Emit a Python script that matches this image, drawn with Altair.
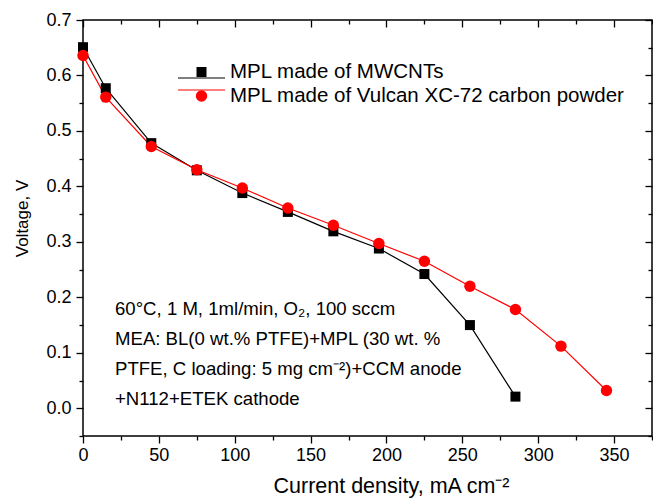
import altair as alt
import pandas as pd

# ---- data ----
mw_x = [0, 15, 45, 75, 105, 135, 165, 195, 225, 255, 285]
mw_y = [0.651, 0.577, 0.478, 0.429, 0.388, 0.354, 0.319, 0.288, 0.242, 0.150, 0.021]
vx_x = [0, 15, 45, 75, 105, 135, 165, 195, 225, 255, 285, 315, 345]
vx_y = [0.636, 0.561, 0.472, 0.430, 0.397, 0.361, 0.330, 0.297, 0.265, 0.220, 0.178, 0.112, 0.032]
series_names = ["MPL made of MWCNTs", "MPL made of Vulcan XC-72 carbon powder"]
series_colors = ["#000000", "#ff0000"]
x_ticks = list(range(0, 376, 25))
y_ticks = [round(-0.05 + 0.05 * i, 2) for i in range(16)]
note_lines = [
    "60°C, 1 M, 1ml/min, O₂, 100 sccm",
    "MEA: BL(0 wt.% PTFE)+MPL (30 wt. %",
    "PTFE, C loading: 5 mg cm⁻²)+CCM anode",
    "+N112+ETEK cathode",
]

rows = [{"x": a, "y": b, "s": series_names[0], "o": i} for i, (a, b) in enumerate(zip(mw_x, mw_y))]
rows += [{"x": a, "y": b, "s": series_names[1], "o": i} for i, (a, b) in enumerate(zip(vx_x, vx_y))]
df = pd.DataFrame(rows)
df_leg = pd.DataFrame({"s": series_names})

FONT = "Liberation Sans"
W, H = 569, 416

xs = alt.Scale(domain=[0, 375], nice=False, zero=False)
ys = alt.Scale(domain=[-0.05, 0.7], nice=False, zero=False)

x_major = "abs(datum.value % 50) < 0.001"
y_major = "abs(round(datum.value*10) - datum.value*10) < 0.001"


def xaxis(offset, labels):
    kw = dict(
        orient="bottom", values=x_ticks, grid=False, domain=False,
        tickColor="#000", tickWidth=1.3,
        tickSize={"condition": {"test": x_major, "value": 7}, "value": 4},
    )
    if labels:
        kw.update(labelExpr="datum.value % 50 == 0 ? datum.label : ''",
                  labelFont=FONT, labelFontSize=18, labelColor="#000", labelPadding=3,
                  title="Current density, mA cm⁻²", titleFont=FONT, titleFontSize=21.5,
                  titleFontWeight="normal", titleColor="#000", titleX=308, titleY=50,
                  titleAlign="center", titleBaseline="middle", labelFlush=False)
    else:
        kw.update(labels=False, title="", offset=offset)
    return alt.Axis(**kw)


def yaxis(offset, labels):
    kw = dict(
        orient="left", values=y_ticks, grid=False, domain=False,
        tickColor="#000", tickWidth=1.3,
        tickSize={"condition": {"test": y_major, "value": 7}, "value": 4},
    )
    if labels:
        kw.update(labelExpr=y_major + " ? format(datum.value, '.1f') : ''",
                  labelFont=FONT, labelFontSize=18, labelColor="#000", labelPadding=5,
                  title="Voltage, V", titleFont=FONT, titleFontSize=17, titleFontWeight="normal",
                  titleColor="#000", titleX=-61, titleY=198, titleAngle=-90,
                  titleAlign="center", titleBaseline="middle", labelFlush=False)
    else:
        kw.update(labels=False, title="", offset=offset)
    return alt.Axis(**kw)


cscale = alt.Scale(domain=series_names, range=series_colors)
color = alt.Color("s:N", scale=cscale, legend=None)

lines = alt.Chart(df).mark_line(strokeWidth=1.2).encode(
    x=alt.X("x:Q", scale=xs, axis=xaxis(0, True)),
    y=alt.Y("y:Q", scale=ys, axis=yaxis(0, True)),
    color=color,
    order="o:Q",
)

squares = alt.Chart(df).transform_filter(
    alt.datum.s == series_names[0]
).mark_square(size=100, opacity=1, color=series_colors[0]).encode(
    x=alt.X("x:Q", scale=xs, axis=xaxis(-H, False)),
    y=alt.Y("y:Q", scale=ys, axis=yaxis(-W, False)),
)

circles = alt.Chart(df).transform_filter(
    alt.datum.s == series_names[1]
).mark_circle(size=130, opacity=1, color=series_colors[1]).encode(
    x=alt.X("x:Q", scale=xs, axis=None),
    y=alt.Y("y:Q", scale=ys, axis=None),
)

# ---- legend (drawn as marks, rows placed by a point scale) ----
lscale = alt.Scale(domain=series_names, range=[52, 76], padding=0)
ly = alt.Y("s:N", scale=lscale, axis=None)
leg_line = alt.Chart(df_leg).mark_rule(strokeWidth=1.2).encode(
    x=alt.value(95), x2=alt.value(142), y=ly, color=color,
)
leg_sym = alt.Chart(df_leg).mark_point(filled=True, opacity=1).encode(
    x=alt.value(118.5), y=ly, color=color,
    shape=alt.Shape("s:N", scale=alt.Scale(domain=series_names, range=["square", "circle"]), legend=None),
    size=alt.Size("s:N", scale=alt.Scale(domain=series_names, range=[100, 130]), legend=None),
)
leg_txt = alt.Chart(df_leg).mark_text(
    align="left", baseline="middle", font=FONT, fontSize=20.5, color="#000",
).encode(x=alt.value(147), y=ly, text="s:N")

note = alt.Chart(pd.DataFrame({"t": [note_lines]})).mark_text(
    align="left", baseline="top", font=FONT, fontSize=18.6, color="#000", lineHeight=30,
).encode(x=alt.value(32), y=alt.value(280), text="t")

chart = alt.layer(lines, squares, circles, leg_line, leg_sym, leg_txt, note).resolve_scale(
    y="independent"
).resolve_axis(
    x="independent", y="independent"
).properties(
    width=W, height=H, autosize="none",
    padding={"left": 83, "top": 20, "right": 1, "bottom": 62},
).configure_view(stroke="#000", strokeWidth=1.5)

chart.save("out.html", embed_options={"renderer": "svg", "actions": False})
